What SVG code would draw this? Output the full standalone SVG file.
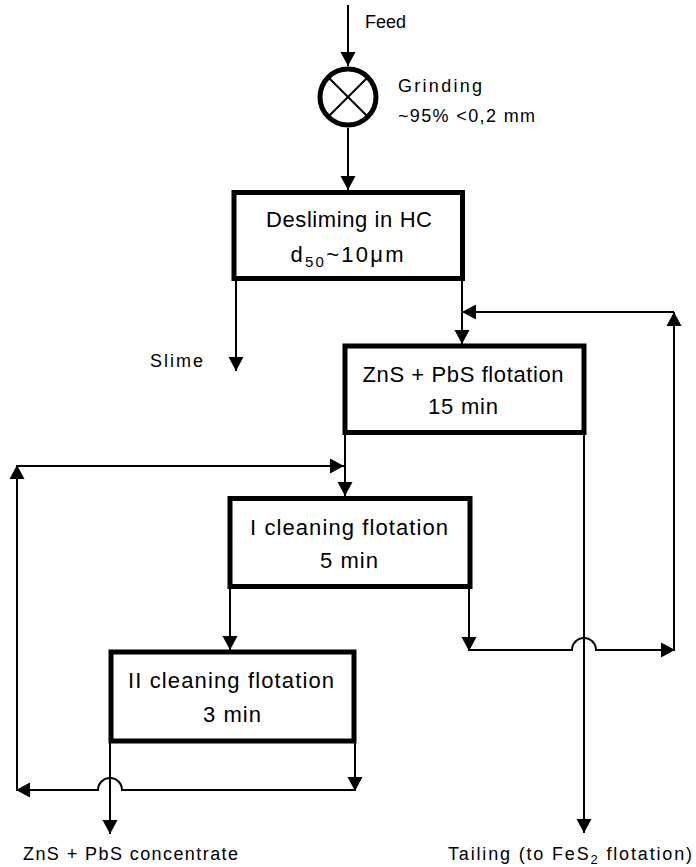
<svg xmlns="http://www.w3.org/2000/svg" width="696" height="867" viewBox="0 0 696 867">
<defs>
<marker id="ah" markerUnits="userSpaceOnUse" markerWidth="16" markerHeight="16" viewBox="0 0 14 16" refX="14" refY="8" orient="auto">
<path d="M0 0.5 L14 8 L0 15.5 Z" fill="#000"/>
</marker>
<style>
.box{fill:#fff;stroke:#000;stroke-width:5;stroke-linejoin:miter}
.ln{fill:none;stroke:#000;stroke-width:2}
.ar{fill:none;stroke:#000;stroke-width:2;marker-end:url(#ah)}
.bt{font-family:"Liberation Sans",Arial,sans-serif;font-size:22px;fill:#000;text-anchor:middle}
.lb{font-family:"Liberation Sans",Arial,sans-serif;font-size:18px;fill:#000}
</style>
</defs>
<rect width="696" height="867" fill="#fff"/>
<g id="connectors">
<path class="ar" d="M348 5 V66"/>
<path class="ar" d="M348 128 V190"/>
<path class="ar" d="M236 279 V371"/>
<path class="ar" d="M462 279 V344"/>
<path class="ar" d="M674 651 V312"/>
<path class="ar" d="M674 312 H462"/>
<path class="ar" d="M584 433 V833"/>
<path class="ar" d="M345 433 V496"/>
<path class="ar" d="M17 791 V465"/>
<path class="ar" d="M17 466 H344"/>
<path class="ar" d="M230 587 V650"/>
<path class="ar" d="M469 587 V651"/>
<path class="ar" d="M469 650 H572 A12 12 0 0 1 596 650 H675"/>
<path class="ar" d="M110 742 V834"/>
<path class="ar" d="M355 742 V791"/>
<path class="ar" d="M355 790 H122 A12 12 0 0 0 98 790 H16"/>
</g>
<g id="feed">
<text class="lb" x="365" y="28">Feed</text>
</g>
<g id="grinding">
<circle cx="348" cy="97" r="28" fill="#fff" stroke="#000" stroke-width="5"/>
<path class="ln" d="M328.2 77.2 L367.8 116.8 M367.8 77.2 L328.2 116.8" stroke-width="2.5"/>
<text class="lb" x="398" y="92" textLength="84" lengthAdjust="spacing">Grinding</text>
<text class="lb" x="398" y="122" textLength="137" lengthAdjust="spacing">~95% &lt;0,2 mm</text>
</g>
<g id="desliming">
<rect class="box" x="234" y="192.5" width="228.5" height="86"/>
<text class="bt" x="349" y="227" textLength="166" lengthAdjust="spacing">Desliming in HC</text>
<text class="bt" x="347" y="262" textLength="113" lengthAdjust="spacing">d<tspan font-size="15" dy="5">50</tspan><tspan dy="-5">~10μm</tspan></text>
</g>
<g id="slime">
<text class="lb" x="150" y="367" textLength="53" lengthAdjust="spacing">Slime</text>
</g>
<g id="znspbs-flotation">
<rect class="box" x="345" y="346" width="239" height="86.5"/>
<text class="bt" x="463" y="382" textLength="201" lengthAdjust="spacing">ZnS + PbS flotation</text>
<text class="bt" x="463" y="414" textLength="70" lengthAdjust="spacing">15 min</text>
</g>
<g id="cleaning-1">
<rect class="box" x="230" y="498.5" width="240" height="88"/>
<text class="bt" x="349" y="535" textLength="198" lengthAdjust="spacing">I cleaning flotation</text>
<text class="bt" x="349" y="568" textLength="58" lengthAdjust="spacing">5 min</text>
</g>
<g id="cleaning-2">
<rect class="box" x="111" y="652" width="243" height="89"/>
<text class="bt" x="231" y="688" textLength="206" lengthAdjust="spacing">II cleaning flotation</text>
<text class="bt" x="232" y="722" textLength="58" lengthAdjust="spacing">3 min</text>
</g>
<g id="concentrate">
<text class="lb" x="23" y="860" textLength="215" lengthAdjust="spacing">ZnS + PbS concentrate</text>
</g>
<g id="tailing">
<text class="lb" x="448" y="860" textLength="244" lengthAdjust="spacing">Tailing (to FeS<tspan font-size="13" dy="4">2</tspan><tspan dy="-4"> flotation)</tspan></text>
</g>
</svg>
